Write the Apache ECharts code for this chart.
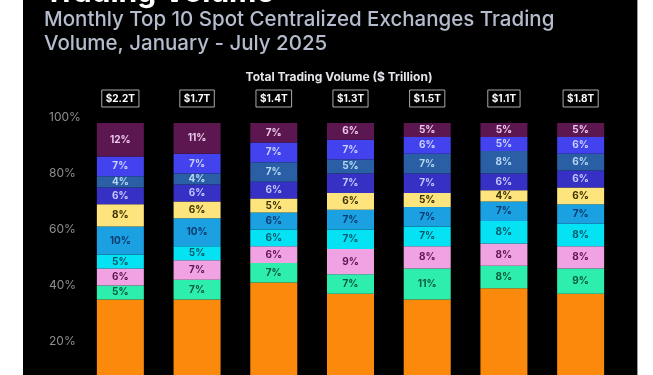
<!DOCTYPE html>
<html>
<head>
<meta charset="utf-8">
<script src="https://cdn.jsdelivr.net/npm/echarts@6/dist/echarts.min.js"></script>
<style>
  html, body { margin: 0; padding: 0; background: #fff; }
  #chart { width: 653px; height: 375px; }
</style>
</head>
<body>
<div id="chart"></div>
<script>
// months + total volume ($ trillion) shown in boxes above each bar
const months = ['Jan', 'Feb', 'Mar', 'Apr', 'May', 'Jun', 'Jul']
const totals = [2.2, 1.7, 1.4, 1.3, 1.5, 1.1, 1.8]
const yTicks = [0, 20, 40, 60, 80, 100]

// market share per exchange (%), bottom segment first
const shareOrange    = [37, 37, 43, 39, 37, 41, 39]
const shareGreen     = [5, 7, 7, 7, 11, 8, 9]
const sharePink      = [6, 7, 6, 9, 8, 8, 8]
const shareCyan      = [5, 5, 6, 7, 7, 8, 8]
const shareLightBlue = [10, 10, 6, 7, 7, 7, 7]
const shareYellow    = [8, 6, 5, 6, 5, 4, 6]
const shareIndigo    = [6, 6, 6, 7, 7, 6, 6]
const shareSteel     = [4, 4, 7, 5, 7, 8, 6]
const shareViolet    = [7, 7, 7, 7, 6, 5, 6]
const sharePurple    = [12, 11, 7, 6, 5, 5, 5]

const segments = [
  { name: 'orange',    data: shareOrange,    color: '#fb8a0c', text: '#5a2e00', hide: true },
  { name: 'green',     data: shareGreen,     color: '#2eeeae', text: '#0b5a3c' },
  { name: 'pink',      data: sharePink,      color: '#f0a2e2', text: '#5c1650' },
  { name: 'cyan',      data: shareCyan,      color: '#04e2f4', text: '#06586a' },
  { name: 'lightblue', data: shareLightBlue, color: '#1ba0e2', text: '#0b3a6e' },
  { name: 'yellow',    data: shareYellow,    color: '#fde47c', text: '#3c3000' },
  { name: 'indigo',    data: shareIndigo,    color: '#3631c4', text: '#c4c8ff' },
  { name: 'steel',     data: shareSteel,     color: '#2a5fa6', text: '#b6d8f4' },
  { name: 'violet',    data: shareViolet,    color: '#4242ee', text: '#ccd2ff' },
  { name: 'purple',    data: sharePurple,    color: '#5c1650', text: '#ecc8ea' },
]

const chart = echarts.init(document.getElementById('chart'))
const font = 'Inter, "Noto Sans", sans-serif'

chart.setOption({
  backgroundColor: '#fff',
  animation: false,
  textStyle: { fontFamily: font },
  graphic: [
    { type: 'rect', z: -10, shape: { x: 23, y: 0, width: 615, height: 375 }, style: { fill: '#000' } },
    { type: 'rect', z: -9, shape: { x: 637, y: 0, width: 1, height: 375 }, style: { fill: '#9a9a9a' } },
    { type: 'text', x: 44, y: 8, style: { text: 'Trading Volume', fill: '#fff', font: 'bold 30px ' + font, verticalAlign: 'bottom' } },
    { type: 'text', x: 44, y: 20, style: { text: 'Monthly Top 10 Spot Centralized Exchanges Trading', fill: '#b4bccd', font: '500 20.5px ' + font, verticalAlign: 'middle' } },
    { type: 'text', x: 44, y: 44, style: { text: 'Volume, January - July 2025', fill: '#b4bccd', font: '500 20.5px ' + font, verticalAlign: 'middle' } },
    { type: 'text', x: 339, y: 77, style: { text: 'Total Trading Volume ($ Trillion)', fill: '#e4e4ea', font: 'bold 12px ' + font, align: 'center', verticalAlign: 'middle' } },
  ],
  grid: { left: 82, width: 537, top: 123, height: 280, outerBoundsMode: 'none', containLabel: false },
  xAxis: [
    {
      type: 'category', data: months,
      axisLine: { show: false }, axisTick: { show: false },
      axisLabel: { color: '#999' },
    },
    {
      type: 'category', data: months, position: 'top',
      axisLine: { show: false }, axisTick: { show: false },
      axisLabel: {
        margin: 16,
        formatter: (v, i) => '$' + totals[i].toFixed(1) + 'T',
        color: '#fff', fontWeight: 'bold', fontSize: 10,
        borderColor: '#aaa', borderWidth: 1, padding: [4, 4, 3, 4],
      },
    },
  ],
  yAxis: {
    type: 'value', min: yTicks[0], max: yTicks[yTicks.length - 1], interval: 20,
    axisLine: { show: false }, axisTick: { show: false }, splitLine: { show: false },
    axisLabel: {
      formatter: '{value}%', color: '#8e8e8e', fontSize: 12,
      align: 'left', margin: 33, verticalAlign: 'bottom',
    },
  },
  series: segments.map(s => ({
    name: s.name,
    type: 'bar',
    stack: 'share',
    barWidth: 47,
    data: s.data,
    itemStyle: { color: s.color },
    label: {
      show: !s.hide, position: 'inside',
      formatter: '{c}%', color: s.text,
      fontSize: 10, fontWeight: 'bold',
    },
  })),
})
</script>
</body>
</html>
